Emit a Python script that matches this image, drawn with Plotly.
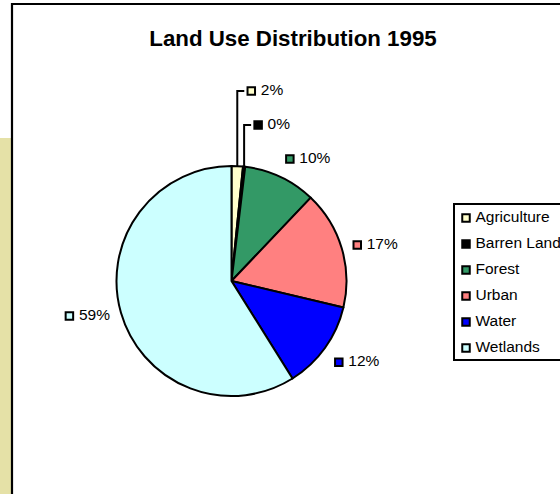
import math
import plotly.graph_objects as go

# ---- data ----
categories = ["Agriculture", "Barren Land", "Forest", "Urban", "Water", "Wetlands"]
shares = [1.6, 0.3, 10.2, 16.6, 12.4, 58.9]
colors = ["#FFFFCC", "#000000", "#339966", "#FF8080", "#0000FF", "#CCFFFF"]
title_text = "Land Use Distribution 1995"

# ---- layout constants (pixels) ----
W, H = 560, 494
cx, cy, R = 231.5, 281.0, 115.0
FONT = "Arial, Liberation Sans, sans-serif"
LBL_SIZE = 15.5
SQ = 7.5        # marker size (outer ~9-10px with border)

def text_width(s, size):
    w = 0.0
    for ch in s:
        if ch.isdigit():
            w += 0.556
        elif ch == "%":
            w += 0.889
        else:
            w += 0.5
    return w * size

total = sum(shares)
pcts = [f"{round(v / total * 100):.0f}%" for v in shares]

# mid angles (from 12 o'clock, clockwise)
mids = []
cum = 0.0
for v in shares:
    mids.append(2 * math.pi * (cum + v / 2) / total)
    cum += v

lab_x = [None] * len(shares)   # square centre x
lab_y = [None] * len(shares)
small = [v / total < 0.03 for v in shares]

for i, th in enumerate(mids):
    if small[i]:
        continue
    ax = cx + 1.1 * R * math.sin(th)
    ay = cy - 1.1 * R * math.cos(th)
    bw = 9 + 5 + text_width(pcts[i], LBL_SIZE)
    bh = 15
    left = ax if math.sin(th) >= 0 else ax - bw
    up = math.cos(th)
    if up > 0.5:
        yc = ay - bh / 2
    elif up < -0.5:
        yc = ay + bh / 2
    else:
        yc = ay
    lab_x[i] = left + 4.5
    lab_y[i] = yc

# small slices: stacked above the next label with leader lines
lead_x, lead_y = [], []
ref = next(i for i in range(len(shares)) if not small[i])
k = 0
for i in reversed(range(len(shares))):
    if not small[i] or i > ref:
        continue
    k += 1
    th = mids[i]
    lx = cx + R * math.sin(th)
    ly0 = cy - R * math.cos(th)
    yc = lab_y[ref] - 34 * k
    lead_x += [lx, lx, lx + 7, None]
    lead_y += [ly0, yc, yc, None]
    lab_x[i] = lx + 14
    lab_y[i] = yc

fig = go.Figure()

fig.add_trace(go.Pie(
    values=shares, labels=categories, sort=False, direction="clockwise",
    rotation=0, textinfo="none", showlegend=False,
    marker=dict(colors=colors, line=dict(color="#000000", width=2)),
    domain=dict(x=[(cx - R) / W, (cx + R) / W],
                y=[1 - (cy + R) / H, 1 - (cy - R) / H]),
))

# leader lines
fig.add_trace(go.Scatter(x=lead_x, y=lead_y, mode="lines",
                         line=dict(color="#000000", width=2),
                         hoverinfo="skip", showlegend=False))
# label squares
fig.add_trace(go.Scatter(x=lab_x, y=lab_y, mode="markers",
                         marker=dict(symbol="square", size=SQ, color=colors,
                                     line=dict(color="#000000", width=2)),
                         hoverinfo="skip", showlegend=False))
# label text
fig.add_trace(go.Scatter(x=[x + 9.5 for x in lab_x], y=lab_y, mode="text",
                         text=pcts, textposition="middle right",
                         textfont=dict(family=FONT, size=LBL_SIZE, color="#000000"),
                         hoverinfo="skip", showlegend=False))

# custom legend
leg_y = [218 + 26 * i for i in range(len(categories))]
fig.add_trace(go.Scatter(x=[466] * len(categories), y=leg_y, mode="markers",
                         marker=dict(symbol="square", size=SQ, color=colors,
                                     line=dict(color="#000000", width=2)),
                         hoverinfo="skip", showlegend=False))
fig.add_trace(go.Scatter(x=[475.5] * len(categories), y=leg_y, mode="text",
                         text=categories, textposition="middle right",
                         textfont=dict(family=FONT, size=LBL_SIZE, color="#000000"),
                         hoverinfo="skip", showlegend=False))

shapes = [
    dict(type="rect", xref="x", yref="y", x0=0, x1=11, y0=138, y1=W,
         fillcolor="#E5E1A7", line=dict(width=0), layer="below"),
    dict(type="rect", xref="x", yref="y", x0=12, x1=620, y0=4, y1=560,
         fillcolor="rgba(0,0,0,0)", line=dict(color="#000000", width=2.2)),
    dict(type="rect", xref="x", yref="y", x0=454, x1=620, y0=204, y1=360,
         fillcolor="rgba(0,0,0,0)", line=dict(color="#000000", width=2)),
]

fig.update_layout(
    width=W, height=H,
    margin=dict(l=0, r=0, t=0, b=0, autoexpand=False),
    paper_bgcolor="#FFFFFF", plot_bgcolor="rgba(0,0,0,0)",
    title=dict(text=f"<b>{title_text}</b>", x=293 / W, y=1 - 38 / H,
               xanchor="center", yanchor="middle", xref="paper", yref="paper",
               font=dict(family=FONT, size=22.3, color="#000000")),
    xaxis=dict(range=[0, W], visible=False, fixedrange=True, domain=[0, 1]),
    yaxis=dict(range=[H, 0], visible=False, fixedrange=True, domain=[0, 1]),
    shapes=shapes,
    showlegend=False,
)

fig.write_html(
    "out.html",
    config={"displayModeBar": False},
    post_script="document.body.style.margin='0';document.body.style.overflow='hidden';",
)
